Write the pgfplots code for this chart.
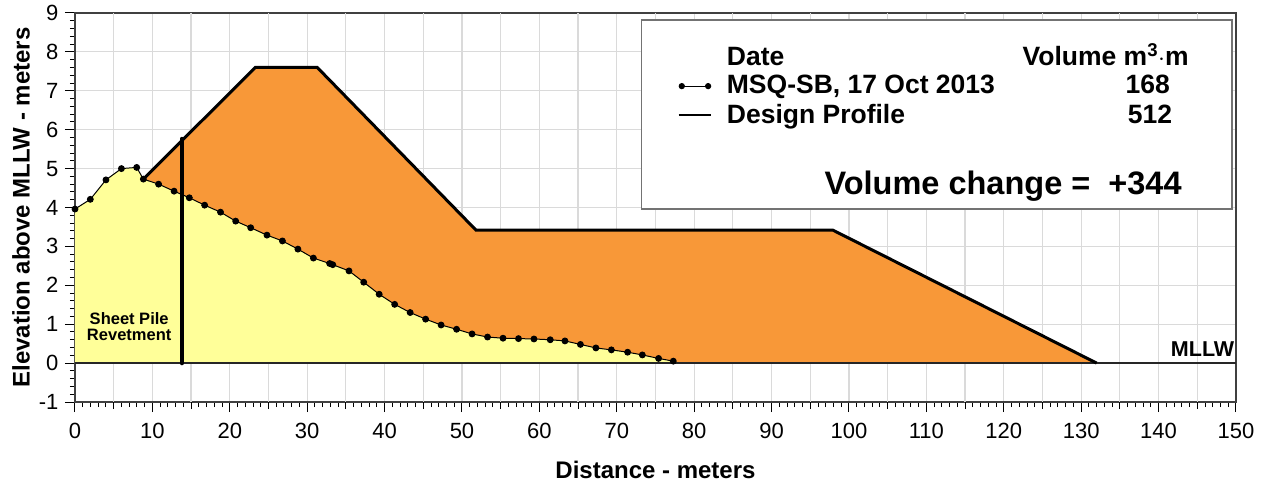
\documentclass[border=0pt]{standalone}
\usepackage{pgfplots}
\pgfplotsset{compat=1.18}
\usepackage{fontspec}
\setmainfont{Liberation Sans}

\definecolor{fillorange}{RGB}{248,152,56}
\definecolor{fillyellow}{RGB}{255,255,153}
\definecolor{gridgray}{RGB}{218,218,218}

\newcommand{\fs}[1]{\fontsize{#1}{#1}\selectfont}

\begin{document}
\begin{tikzpicture}
\begin{axis}[
    scale only axis,
    width=1161pt, height=389pt,
    xmin=0, xmax=150, ymin=-1, ymax=9,
    xtick={0,10,...,150},
    ytick={-1,0,...,9},
    minor x tick num=9,
    minor y tick num=4,
    extra x ticks={5,15,...,145},
    extra x tick labels={},
    extra x tick style={grid=major, major tick length=7pt},
    xmajorgrids, ymajorgrids,
    grid style={gridgray, line width=1.2pt},
    tick align=outside,
    xtick pos=bottom, ytick pos=left,
    major tick length=10pt, minor tick length=5pt,
    tick style={black, line width=1pt},
    axis line style={black!75, line width=1.5pt},
    /pgf/number format/assume math mode=true,
    tick label style={font=\fs{22}},
    xticklabel style={yshift=-8pt},
    yticklabel style={xshift=-3pt},
    xlabel={Distance - meters},
    ylabel={Elevation above MLLW - meters},
    xlabel style={at={(axis description cs:0.5,-0.175)}, anchor=center, font=\bfseries\fs{24}},
    ylabel style={at={(axis description cs:-0.0465,0.5)}, anchor=center, font=\bfseries\fs{24}},
]
% design profile fill
\addplot[fill=fillorange, draw=none] coordinates {
  (8.83,4.73) (23.3,7.6) (31.3,7.6) (51.8,3.42) (97.9,3.42) (132,0) (8.83,0)
};
% surveyed profile fill
\addplot[fill=fillyellow, draw=none] coordinates {
  (0,3.96) (1.98,4.21) (4.0,4.71) (6.0,5.0) (7.97,5.03) (8.83,4.73)
  (10.8,4.60) (12.8,4.42) (14.77,4.25) (16.75,4.06) (18.8,3.88) (20.76,3.65)
  (22.7,3.48) (24.8,3.29) (26.8,3.14) (28.8,2.93) (30.8,2.70) (32.9,2.56)
  (33.3,2.53) (35.4,2.37) (37.3,2.08) (39.3,1.77) (41.3,1.51) (43.3,1.30)
  (45.3,1.13) (47.3,0.98) (49.3,0.87) (51.3,0.75) (53.3,0.67) (55.3,0.64)
  (57.3,0.63) (59.3,0.62) (61.4,0.60) (63.3,0.57) (65.3,0.48) (67.3,0.39)
  (69.3,0.34) (71.4,0.28) (73.3,0.21) (75.4,0.12) (77.3,0.05) (77.3,0) (0,0)
};
% MLLW line
\addplot[black!85, line width=1.3pt] coordinates {(0,0) (150,0)};
% design profile line
\addplot[black, line width=3pt, line join=miter] coordinates {
  (8.83,4.73) (23.3,7.6) (31.3,7.6) (51.8,3.42) (97.9,3.42) (132,0)
};
% sheet pile
\addplot[black, line width=4.5pt, line cap=round] coordinates {(13.8,0) (13.8,5.76)};
% surveyed profile
\addplot[black, line width=1pt, mark=*, mark size=2.9pt] coordinates {
  (0,3.96) (1.98,4.21) (4.0,4.71) (6.0,5.0) (7.97,5.03) (8.83,4.73)
  (10.8,4.60) (12.8,4.42) (14.77,4.25) (16.75,4.06) (18.8,3.88) (20.76,3.65)
  (22.7,3.48) (24.8,3.29) (26.8,3.14) (28.8,2.93) (30.8,2.70) (32.9,2.56)
  (33.3,2.53) (35.4,2.37) (37.3,2.08) (39.3,1.77) (41.3,1.51) (43.3,1.30)
  (45.3,1.13) (47.3,0.98) (49.3,0.87) (51.3,0.75) (53.3,0.67) (55.3,0.64)
  (57.3,0.63) (59.3,0.62) (61.4,0.60) (63.3,0.57) (65.3,0.48) (67.3,0.39)
  (69.3,0.34) (71.4,0.28) (73.3,0.21) (75.4,0.12) (77.3,0.05)
};

\node[font=\bfseries\fs{16.5}, align=center, inner sep=0pt, text height=12pt] at (axis cs:7,0.74)
  {Sheet Pile\\[-0.5pt]Revetment};
\node[font=\bfseries\fs{21.5}, anchor=base east, inner sep=0pt] at (axis cs:149.8,0.18) {MLLW};

% legend box
\draw[gray!90!black, line width=1.6pt, fill=white] (axis cs:73.2,3.96) rectangle (axis cs:149.5,8.82);
\addplot[black, line width=1pt, mark=*, mark size=2.6pt] coordinates {(78.4,7.12) (81.8,7.12)};
\addplot[black, line width=1.6pt] coordinates {(78.0,6.38) (82.2,6.38)};
\node[font=\bfseries\fs{26.5}, anchor=base west, inner sep=0pt] at (axis cs:84.2,7.66) {Date};
\node[font=\bfseries\fs{26.5}, anchor=base west, inner sep=0pt] at (axis cs:84.2,6.92) {MSQ-SB, 17 Oct 2013};
\node[font=\bfseries\fs{26.5}, anchor=base west, inner sep=0pt] at (axis cs:84.2,6.17) {Design Profile};
\node[font=\bfseries\fs{26.5}, anchor=base east, inner sep=0pt] at (axis cs:143.9,7.66) {Volume m\textsuperscript{3}$\cdot$m};
\node[font=\bfseries\fs{26.5}, anchor=base, inner sep=0pt] at (axis cs:138.6,6.92) {168};
\node[font=\bfseries\fs{26.5}, anchor=base, inner sep=0pt] at (axis cs:138.9,6.17) {512};
\node[font=\bfseries\fs{32.5}, anchor=base east, inner sep=0pt] at (axis cs:143.0,4.34) {Volume change =\ \ +344};
\end{axis}
\pgfresetboundingbox
\path (-75pt,-83pt) rectangle (1187pt,402pt);
\end{tikzpicture}
\end{document}
